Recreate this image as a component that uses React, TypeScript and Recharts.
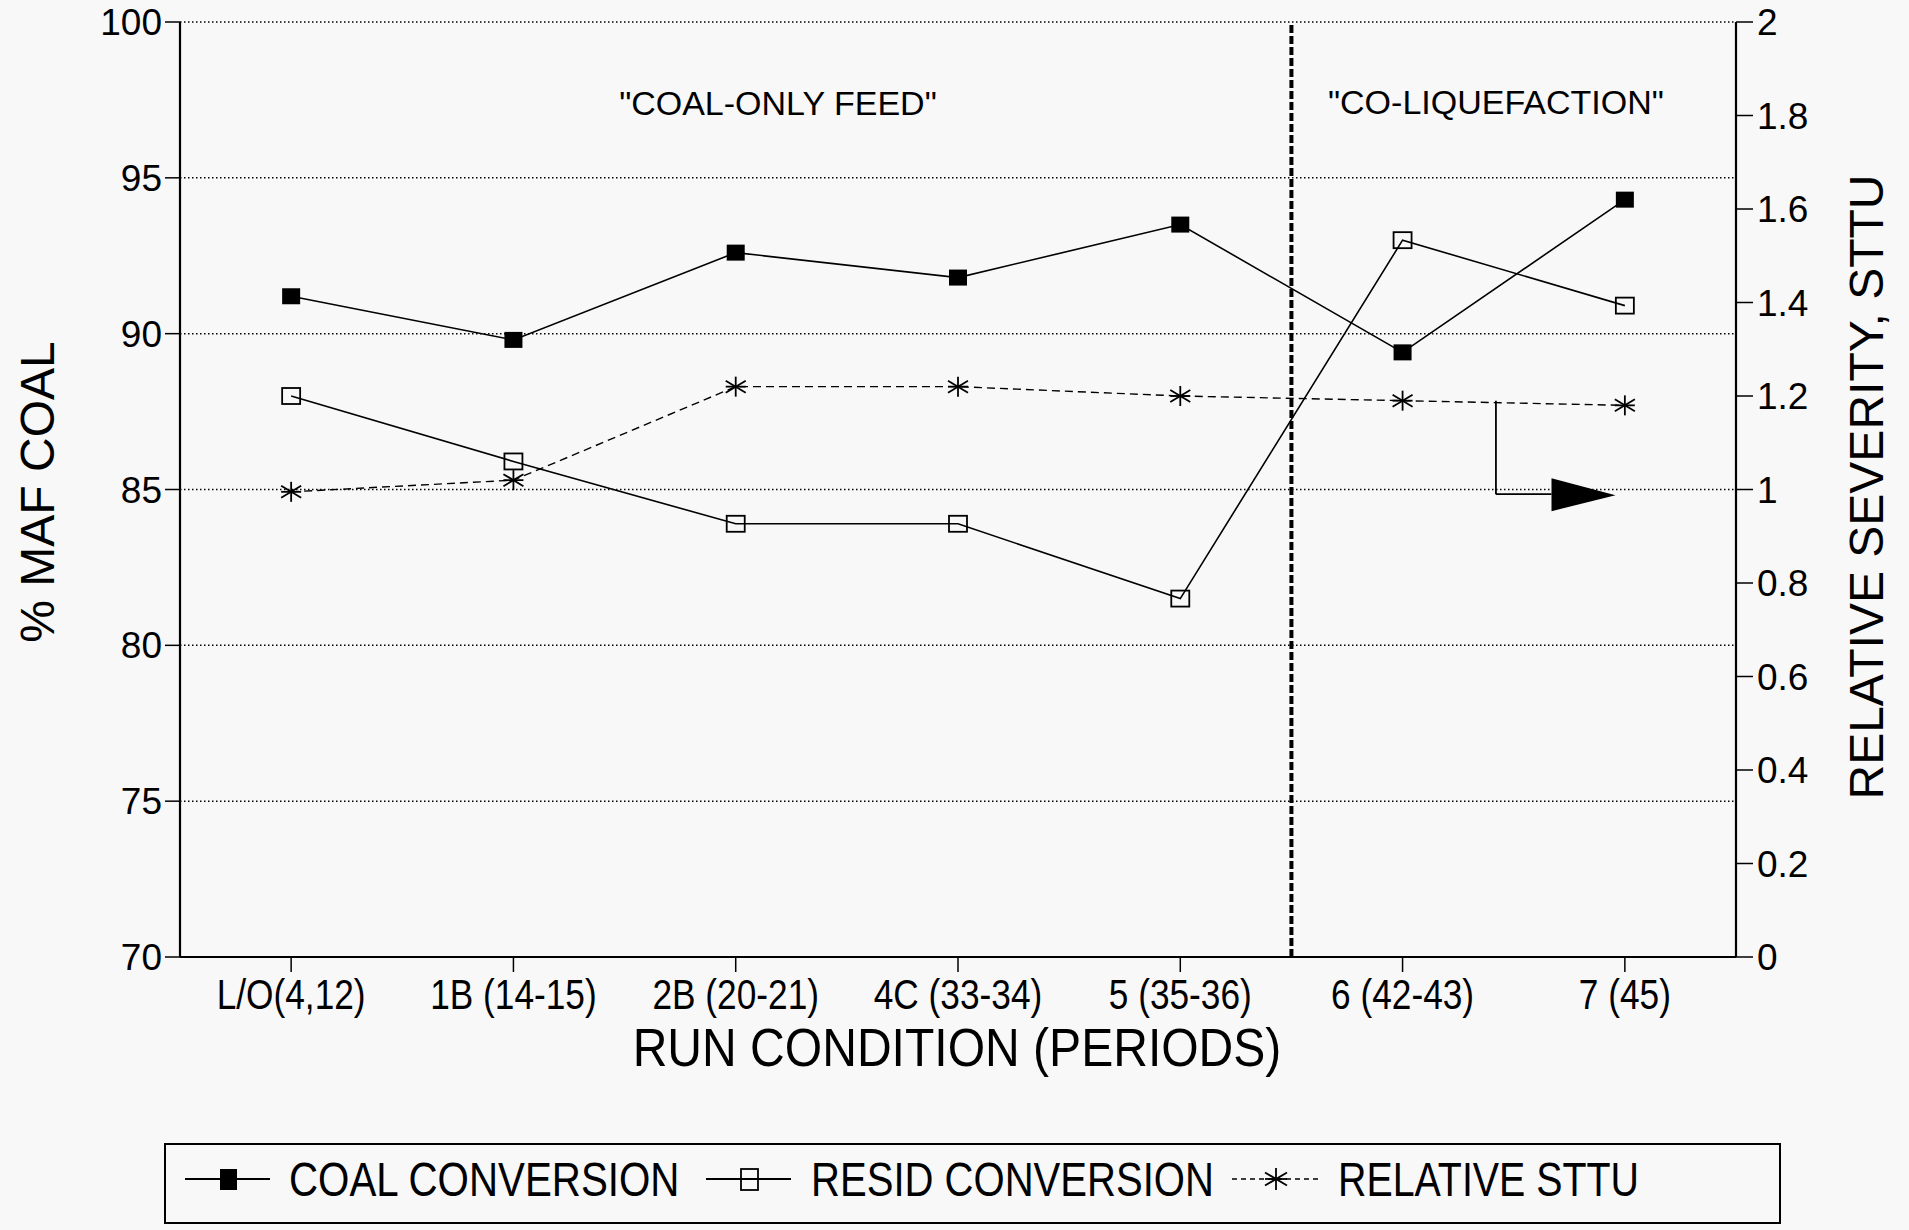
import React from 'react';
import {
  LineChart,
  Line,
  XAxis,
  YAxis,
  CartesianGrid,
  ReferenceLine,
  ReferenceDot,
  Legend,
} from 'recharts';

// ---------- data ----------
const categories = ['L/O(4,12)', '1B (14-15)', '2B (20-21)', '4C (33-34)', '5 (35-36)', '6 (42-43)', '7 (45)'];
const coalConversion = [91.2, 89.8, 92.6, 91.8, 93.5, 89.4, 94.3];
const residConversion = [88.0, 85.9, 83.9, 83.9, 81.5, 93.0, 90.9];
const relativeSttu = [0.995, 1.02, 1.22, 1.22, 1.2, 1.19, 1.18];
const leftTicks = [70, 75, 80, 85, 90, 95, 100];
const rightTicks = [0, 0.2, 0.4, 0.6, 0.8, 1, 1.2, 1.4, 1.6, 1.8, 2];
const seriesNames = ['COAL CONVERSION', 'RESID CONVERSION', 'RELATIVE STTU'];
const regionLabels = ['"COAL-ONLY FEED"', '"CO-LIQUEFACTION"'];

const data = categories.map((name, i) => ({
  pos: i + 1,
  name,
  coal: coalConversion[i],
  resid: residConversion[i],
  sttu: relativeSttu[i],
}));
const xTicks = categories.map((_, i) => i + 1);

// ---------- styles ----------
const BG = '#f8f8f8';
const SANS = '"Liberation Sans", Arial, Helvetica, sans-serif';
const NARROW_SCALE = 0.82;

const CoalDot = (props: any) => {
  const { cx, cy, index } = props;
  if (cx == null || cy == null) return <g key={`c${index}`} />;
  return <rect key={`c${index}`} x={cx - 9} y={cy - 8} width={18} height={16} fill="#000" />;
};
const ResidDot = (props: any) => {
  const { cx, cy, index } = props;
  if (cx == null || cy == null) return <g key={`r${index}`} />;
  return (
    <rect key={`r${index}`} x={cx - 9} y={cy - 8} width={18} height={16} fill="none" stroke="#000" strokeWidth={1.8} />
  );
};
const Asterisk = ({ cx, cy, s = 10 }: { cx: number; cy: number; s?: number }) => (
  <g stroke="#000" strokeWidth={1.8}>
    <line x1={cx} y1={cy - s} x2={cx} y2={cy + s} />
    <line x1={cx - s} y1={cy - s * 0.6} x2={cx + s} y2={cy + s * 0.6} />
    <line x1={cx - s} y1={cy + s * 0.6} x2={cx + s} y2={cy - s * 0.6} />
    <line x1={cx - s} y1={cy} x2={cx + s} y2={cy} />
  </g>
);
const SttuDot = (props: any) => {
  const { cx, cy, index } = props;
  if (cx == null || cy == null) return <g key={`s${index}`} />;
  return (
    <g key={`s${index}`}>
      <Asterisk cx={cx} cy={cy} />
    </g>
  );
};

const ArrowHead = (props: any) => {
  const { cx, cy } = props;
  if (cx == null || cy == null) return <g />;
  return <polygon points={`${cx},${cy - 16} ${cx},${cy + 17} ${cx + 64},${cy + 1}`} fill="#000" />;
};

const XTick = (props: any) => {
  const { x, y, payload } = props;
  const label = categories[Math.round(payload.value) - 1] ?? '';
  return (
    <g transform={`translate(${x},${y}) scale(${NARROW_SCALE},1)`}>
      <text x={0} y={0} dy="0.71em" textAnchor="middle" fontFamily={SANS} fontSize={43} fill="#000">
        {label}
      </text>
    </g>
  );
};

const NarrowText = ({
  x,
  y,
  size,
  scale,
  anchor = 'start',
  children,
}: {
  x: number;
  y: number;
  size: number;
  scale: number;
  anchor?: 'start' | 'middle' | 'end';
  children: React.ReactNode;
}) => (
  <g transform={`translate(${x},${y}) scale(${scale},1)`}>
    <text x={0} y={0} textAnchor={anchor} fontFamily={SANS} fontSize={size} fill="#000">
      {children}
    </text>
  </g>
);

const renderLegend = () => (
  <div
    style={{
      width: 1617,
      height: 81,
      border: '2px solid #000',
      boxSizing: 'border-box',
      background: BG,
    }}
  >
    <svg width={1613} height={77} style={{ display: 'block' }}>
      {/* coal */}
      <line x1={19} y1={34} x2={104} y2={34} stroke="#000" strokeWidth={1.8} />
      <rect x={54} y={24} width={17} height={21} fill="#000" />
      <NarrowText x={123} y={51} size={48} scale={0.84}>
        {seriesNames[0]}
      </NarrowText>
      {/* resid */}
      <line x1={540} y1={34} x2={625} y2={34} stroke="#000" strokeWidth={1.8} />
      <rect x={575} y={24} width={17} height={21} fill="none" stroke="#000" strokeWidth={1.8} />
      <NarrowText x={645} y={51} size={48} scale={0.835}>
        {seriesNames[1]}
      </NarrowText>
      {/* sttu */}
      <line x1={1066} y1={34} x2={1155} y2={34} stroke="#000" strokeWidth={1.5} strokeDasharray="5 4" />
      <Asterisk cx={1110} cy={34} s={11} />
      <NarrowText x={1172} y={51} size={48} scale={0.82}>
        {seriesNames[2]}
      </NarrowText>
    </svg>
  </div>
);

export default function App() {
  return (
    <div style={{ position: 'absolute', left: 0, top: 0, width: 1909, height: 1230, background: BG, overflow: 'hidden' }}>
      <LineChart width={1909} height={1230} data={data} margin={{ top: 22, right: 0, bottom: 0, left: 0 }}>
        <CartesianGrid horizontal vertical={false} stroke="#000" strokeWidth={1.5} strokeDasharray="1.5 2.5" />
        <XAxis
          dataKey="pos"
          type="number"
          domain={[0.5, 7.5]}
          ticks={xTicks}
          interval={0}
          height={273}
          axisLine={{ stroke: '#000', strokeWidth: 2.2 }}
          tickLine={{ stroke: '#000', strokeWidth: 1.5 }}
          tickSize={15}
          tickMargin={6}
          tick={<XTick />}
          label={{
            content: () => (
              <g transform="translate(957,1047) scale(0.89,1)">
                <text x={0} y={0} dy="0.36em" textAnchor="middle" fontFamily={SANS} fontSize={54} fill="#000">
                  RUN CONDITION (PERIODS)
                </text>
              </g>
            ),
          }}
        />
        <XAxis
          xAxisId="top"
          dataKey="pos"
          type="number"
          domain={[0.5, 7.5]}
          orientation="top"
          height={0}
          tick={false}
          tickLine={false}
          axisLine={{ stroke: '#000', strokeWidth: 2.2 }}
        />
        <YAxis
          domain={[70, 100]}
          ticks={leftTicks}
          width={180}
          axisLine={{ stroke: '#000', strokeWidth: 2.2 }}
          tickLine={{ stroke: '#000', strokeWidth: 1.5 }}
          tickSize={15}
          tickMargin={3}
          tick={{ fill: '#000', fontSize: 37, fontFamily: SANS }}
          label={{
            content: () => (
              <text
                x={37}
                y={492}
                dy="0.36em"
                transform="rotate(-90 37 492)"
                textAnchor="middle"
                fontFamily={SANS}
                fontSize={48}
                fill="#000"
              >
                % MAF COAL
              </text>
            ),
          }}
        />
        <YAxis
          yAxisId="right"
          orientation="right"
          domain={[0, 2]}
          ticks={rightTicks}
          width={173}
          axisLine={{ stroke: '#000', strokeWidth: 2.2 }}
          tickLine={{ stroke: '#000', strokeWidth: 1.5 }}
          tickSize={17}
          tickMargin={4}
          tick={{ fill: '#000', fontSize: 37, fontFamily: SANS }}
          label={{
            content: () => (
              <text
                x={1866}
                y={487}
                dy="0.36em"
                transform="rotate(-90 1866 487)"
                textAnchor="middle"
                fontFamily={SANS}
                fontSize={48}
                fill="#000"
              >
                RELATIVE SEVERITY, STTU
              </text>
            ),
          }}
        />

        <ReferenceLine x={5.5} stroke="#000" strokeWidth={4} strokeDasharray="8 3" />

        <ReferenceDot
          x={3.19}
          y={97.4}
          r={0}
          fill="none"
          stroke="none"
          label={{ value: regionLabels[0], position: 'center', fontSize: 34, fontFamily: SANS, fill: '#000' }}
        />
        <ReferenceDot
          x={6.42}
          y={97.45}
          r={0}
          fill="none"
          stroke="none"
          label={{ value: regionLabels[1], position: 'center', fontSize: 34, fontFamily: SANS, fill: '#000' }}
        />

        {/* arrow pointing to the right axis */}
        <ReferenceLine
          yAxisId="right"
          segment={[
            { x: 6.42, y: 1.19 },
            { x: 6.42, y: 0.99 },
          ]}
          stroke="#000"
          strokeWidth={1.8}
        />
        <ReferenceLine
          yAxisId="right"
          segment={[
            { x: 6.42, y: 0.99 },
            { x: 6.67, y: 0.99 },
          ]}
          stroke="#000"
          strokeWidth={1.8}
        />
        <ReferenceDot yAxisId="right" x={6.67} y={0.99} r={1} shape={ArrowHead} />

        <Line
          dataKey="coal"
          type="linear"
          stroke="#000"
          strokeWidth={1.6}
          dot={CoalDot}
          activeDot={false}
          isAnimationActive={false}
        />
        <Line
          dataKey="resid"
          type="linear"
          stroke="#000"
          strokeWidth={1.6}
          dot={ResidDot}
          activeDot={false}
          isAnimationActive={false}
        />
        <Line
          dataKey="sttu"
          yAxisId="right"
          type="linear"
          stroke="#000"
          strokeWidth={1.4}
          strokeDasharray="8 5"
          dot={SttuDot}
          activeDot={false}
          isAnimationActive={false}
        />
        <Legend
          verticalAlign="middle"
          align="center"
          width={1617}
          height={81}
          wrapperStyle={{ left: 164, top: 1143, width: 1617, height: 81 }}
          content={renderLegend}
        />
      </LineChart>
    </div>
  );
}
